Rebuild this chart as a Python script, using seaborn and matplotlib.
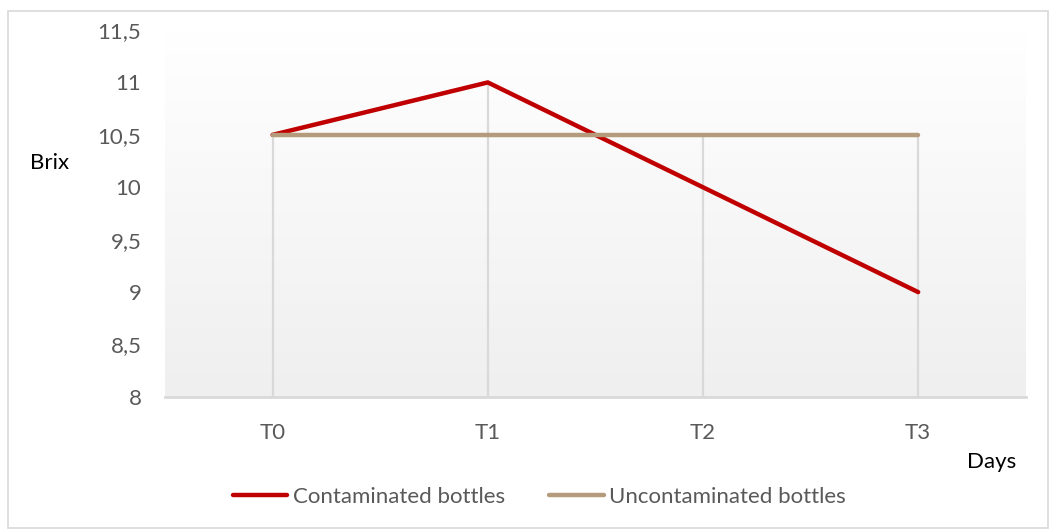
import numpy as np
import pandas as pd
import matplotlib
matplotlib.use("Agg")
import matplotlib.pyplot as plt
import seaborn as sns
from matplotlib.ticker import FuncFormatter

# data
days = ["T0", "T1", "T2", "T3"]
contaminated = [10.5, 11, 10, 9]
uncontaminated = [10.5, 10.5, 10.5, 10.5]
yticks = [8, 8.5, 9, 9.5, 10, 10.5, 11, 11.5]

df = pd.DataFrame({
    "Days": days * 2,
    "Brix": contaminated + uncontaminated,
    "series": ["Contaminated bottles"] * 4 + ["Uncontaminated bottles"] * 4,
})

sns.set_style("white")
plt.rcParams["font.family"] = ["Lato", "DejaVu Sans"]
fs = 16

fig = plt.figure(figsize=(10.51, 5.31), dpi=100)
ax = fig.add_axes([0.157, 0.2524, 0.819, 0.6911])

# gradient background of the plot area (white on top, light grey at bottom)
grad = np.linspace(1, 0, 256).reshape(-1, 1)
ax.imshow(grad, extent=[-0.5, 3.5, 8, 11.5], aspect="auto",
          cmap=matplotlib.colors.LinearSegmentedColormap.from_list("g", ["#efefef", "#ffffff"]),
          zorder=0, origin="upper")

# drop lines from the top of each category down to the axis
tops = np.maximum(contaminated, uncontaminated)
ax.vlines(range(len(days)), 8, tops, color="#d9d9d9", lw=1.6, zorder=1)

sns.lineplot(data=df, x="Days", y="Brix", hue="series",
             palette=["#c00000", "#b49b7b"], lw=3.2, ax=ax, zorder=3,
             solid_capstyle="round", legend=False)

ax.set_xlim(-0.5, 3.5)
ax.set_ylim(8, 11.5)
ax.set_yticks(yticks)
ax.yaxis.set_major_formatter(FuncFormatter(lambda v, p: f"{v:g}".replace(".", ",")))
ax.tick_params(axis="both", length=0, labelsize=fs, labelcolor="#595959")
ax.tick_params(axis="y", pad=17)
ax.tick_params(axis="x", pad=19)
ax.set_xlabel("")
ax.set_ylabel("")
for s in ["left", "right", "top"]:
    ax.spines[s].set_visible(False)
ax.spines["bottom"].set_color("#d9d9d9")
ax.spines["bottom"].set_linewidth(2)

fig.text(30 / 1051, 1 - 163 / 531, "Brix", fontsize=fs, va="center", ha="left", color="black")
fig.text(1016 / 1051, 1 - 462 / 531, "Days", fontsize=fs, va="center", ha="right", color="black")

handles = [plt.Line2D([], [], color="#c00000", lw=3.2, solid_capstyle="round"),
           plt.Line2D([], [], color="#b49b7b", lw=3.2, solid_capstyle="round")]
fig.legend(handles, ["Contaminated bottles", "Uncontaminated bottles"],
           loc="center", bbox_to_anchor=(0.513, 1 - 497 / 531), ncol=2, frameon=False,
           fontsize=fs, labelcolor="#595959", handlelength=2.45, handletextpad=0.25,
           columnspacing=2)

# outer chart border
fig.patches.append(plt.Rectangle((8 / 1051, 3 / 531), 1040 / 1051, 517 / 531,
                                 transform=fig.transFigure, fill=False,
                                 edgecolor="#d9d9d9", lw=1.2))

fig.savefig("out.png", dpi=100)
